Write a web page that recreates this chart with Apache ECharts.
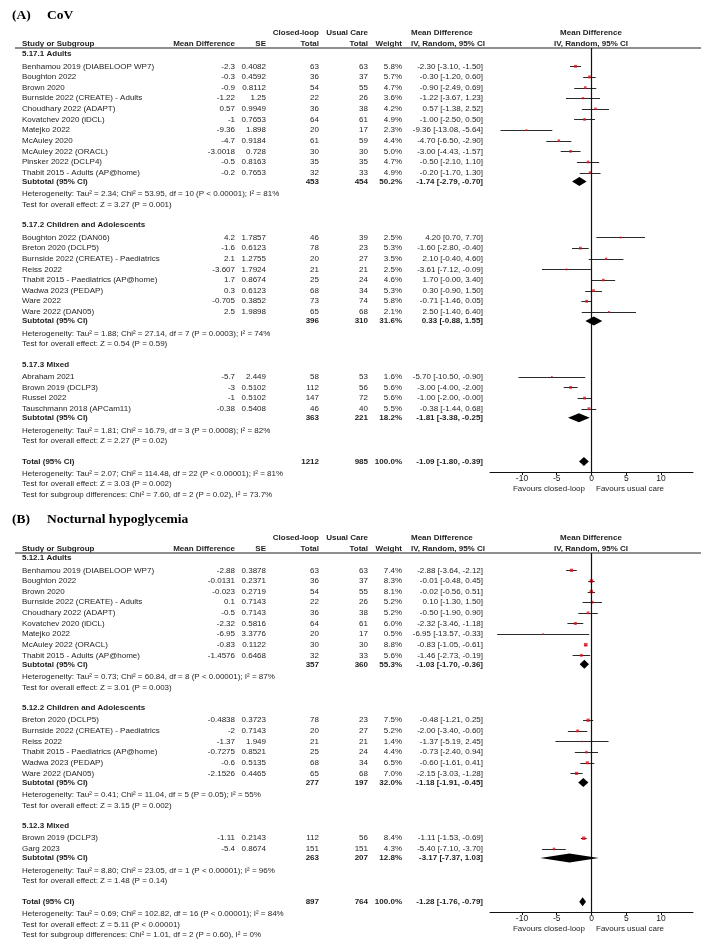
<!DOCTYPE html>
<html><head><meta charset="utf-8">
<script src="https://cdn.jsdelivr.net/npm/echarts@6/dist/echarts.min.js"></script>
<style>html,body{margin:0;padding:0;background:#fff}#c{width:705px;height:944px}</style>
</head><body><div id="c"></div>
<script>
// ================= Panel A : CoV =================
const A_label = "(A)";
const A_title = "CoV";
const A_groups = ["5.17.1 Adults", "5.17.2 Children and Adolescents", "5.17.3 Mixed"];
const A_groupSize = [11, 8, 4];
const A_study = [
  "Benhamou 2019 (DIABELOOP WP7)", "Boughton 2022", "Brown 2020", "Burnside 2022 (CREATE) - Adults",
  "Choudhary 2022 (ADAPT)", "Kovatchev 2020 (iDCL)", "Matejko 2022", "McAuley 2020",
  "McAuley 2022 (ORACL)", "Pinsker 2022 (DCLP4)", "Thabit 2015 - Adults (AP@home)",
  "Boughton 2022 (DAN06)", "Breton 2020 (DCLP5)", "Burnside 2022 (CREATE) - Paediatrics", "Reiss 2022",
  "Thabit 2015 - Paediatrics (AP@home)", "Wadwa 2023 (PEDAP)", "Ware 2022", "Ware 2022 (DAN05)",
  "Abraham 2021", "Brown 2019 (DCLP3)", "Russel 2022", "Tauschmann 2018 (APCam11)"
];
const A_md = [-2.3, -0.3, -0.9, -1.22, 0.57, -1, -9.36, -4.7, -3.0018, -0.5, -0.2,
  4.2, -1.6, 2.1, -3.607, 1.7, 0.3, -0.705, 2.5,
  -5.7, -3, -1, -0.38];
const A_se = [0.4082, 0.4592, 0.8112, 1.25, 0.9949, 0.7653, 1.898, 0.9184, 0.728, 0.8163, 0.7653,
  1.7857, 0.6123, 1.2755, 1.7924, 0.8674, 0.6123, 0.3852, 1.9898,
  2.449, 0.5102, 0.5102, 0.5408];
const A_nCL = [63, 36, 54, 22, 36, 64, 20, 61, 30, 35, 32, 46, 78, 20, 21, 25, 68, 73, 65, 58, 112, 147, 46];
const A_nUC = [63, 37, 55, 26, 38, 61, 17, 59, 30, 35, 33, 39, 23, 27, 21, 24, 34, 74, 68, 53, 56, 72, 40];
const A_weight = [5.8, 5.7, 4.7, 3.6, 4.2, 4.9, 2.3, 4.4, 5.0, 4.7, 4.9,
  2.5, 5.3, 3.5, 2.5, 4.6, 5.3, 5.8, 2.1,
  1.6, 5.6, 5.6, 5.5];
const A_subMD = [-1.74, 0.33, -1.81];
const A_subLo = [-2.79, -0.88, -3.38];
const A_subHi = [-0.70, 1.55, -0.25];
const A_subNCL = [453, 396, 363];
const A_subNUC = [454, 310, 221];
const A_subW = [50.2, 31.6, 18.2];
const A_het = [
  "Heterogeneity: Tau² = 2.34; Chi² = 53.95, df = 10 (P < 0.00001); I² = 81%",
  "Heterogeneity: Tau² = 1.88; Chi² = 27.14, df = 7 (P = 0.0003); I² = 74%",
  "Heterogeneity: Tau² = 1.81; Chi² = 16.79, df = 3 (P = 0.0008); I² = 82%"
];
const A_test = [
  "Test for overall effect: Z = 3.27 (P = 0.001)",
  "Test for overall effect: Z = 0.54 (P = 0.59)",
  "Test for overall effect: Z = 2.27 (P = 0.02)"
];
const A_totMD = [-1.09, -1.80, -0.39];   // estimate, lower, upper
const A_totN = [1212, 985];
const A_totW = 100.0;
const A_totNotes = [
  "Heterogeneity: Tau² = 2.07; Chi² = 114.48, df = 22 (P < 0.00001); I² = 81%",
  "Test for overall effect: Z = 3.03 (P = 0.002)",
  "Test for subgroup differences: Chi² = 7.60, df = 2 (P = 0.02), I² = 73.7%"
];

// ================= Panel B : Nocturnal hypoglycemia =================
const B_label = "(B)";
const B_title = "Nocturnal hypoglycemia";
const B_groups = ["5.12.1 Adults", "5.12.2 Children and Adolescents", "5.12.3 Mixed"];
const B_groupSize = [9, 6, 2];
const B_study = [
  "Benhamou 2019 (DIABELOOP WP7)", "Boughton 2022", "Brown 2020", "Burnside 2022 (CREATE) - Adults",
  "Choudhary 2022 (ADAPT)", "Kovatchev 2020 (iDCL)", "Matejko 2022", "McAuley 2022 (ORACL)",
  "Thabit 2015 - Adults (AP@home)",
  "Breton 2020 (DCLP5)", "Burnside 2022 (CREATE) - Paediatrics", "Reiss 2022",
  "Thabit 2015 - Paediatrics (AP@home)", "Wadwa 2023 (PEDAP)", "Ware 2022 (DAN05)",
  "Brown 2019 (DCLP3)", "Garg 2023"
];
const B_md = [-2.88, -0.0131, -0.023, 0.1, -0.5, -2.32, -6.95, -0.83, -1.4576,
  -0.4838, -2, -1.37, -0.7275, -0.6, -2.1526,
  -1.11, -5.4];
const B_se = [0.3878, 0.2371, 0.2719, 0.7143, 0.7143, 0.5816, 3.3776, 0.1122, 0.6468,
  0.3723, 0.7143, 1.949, 0.8521, 0.5135, 0.4465,
  0.2143, 0.8674];
const B_nCL = [63, 36, 54, 22, 36, 64, 20, 30, 32, 78, 20, 21, 25, 68, 65, 112, 151];
const B_nUC = [63, 37, 55, 26, 38, 61, 17, 30, 33, 23, 27, 21, 24, 34, 68, 56, 151];
const B_weight = [7.4, 8.3, 8.1, 5.2, 5.2, 6.0, 0.5, 8.8, 5.6,
  7.5, 5.2, 1.4, 4.4, 6.5, 7.0,
  8.4, 4.3];
const B_subMD = [-1.03, -1.18, -3.17];
const B_subLo = [-1.70, -1.91, -7.37];
const B_subHi = [-0.36, -0.45, 1.03];
const B_subNCL = [357, 277, 263];
const B_subNUC = [360, 197, 207];
const B_subW = [55.3, 32.0, 12.8];
const B_het = [
  "Heterogeneity: Tau² = 0.73; Chi² = 60.84, df = 8 (P < 0.00001); I² = 87%",
  "Heterogeneity: Tau² = 0.41; Chi² = 11.04, df = 5 (P = 0.05); I² = 55%",
  "Heterogeneity: Tau² = 8.80; Chi² = 23.05, df = 1 (P < 0.00001); I² = 96%"
];
const B_test = [
  "Test for overall effect: Z = 3.01 (P = 0.003)",
  "Test for overall effect: Z = 3.15 (P = 0.002)",
  "Test for overall effect: Z = 1.48 (P = 0.14)"
];
const B_totMD = [-1.28, -1.76, -0.79];
const B_totN = [897, 764];
const B_totW = 100.0;
const B_totNotes = [
  "Heterogeneity: Tau² = 0.69; Chi² = 102.82, df = 16 (P < 0.00001); I² = 84%",
  "Test for overall effect: Z = 5.11 (P < 0.00001)",
  "Test for subgroup differences: Chi² = 1.01, df = 2 (P = 0.60), I² = 0%"
];

// shared axis ticks
const X_TICKS = [-10, -5, 0, 5, 10];
const FAVOURS = ["Favours closed-loop", "Favours usual care"];
const HDR = {
  cl: "Closed-loop", uc: "Usual Care", md: "Mean Difference", iv: "IV, Random, 95% CI",
  study: "Study or Subgroup", se: "SE", total: "Total", weight: "Weight",
  sub: "Subtotal (95% CI)", tot: "Total (95% CI)"
};

// ================= layout & styles =================
const Z95 = 1.96;
const FONT = '"Liberation Sans", Arial, Helvetica, sans-serif';
const FS = 8;
const TXT = '#1e1e1e';
const COL = { name: 22, md: 235, se: 266, cl: 319, uc: 368, w: 402, ci: 483, ciHdr: 411, plotC: 591 };
const GAP = { g2s: 12.3, st: 10.63, s2sub: 9, sub2het: 12.6, het2test: 10.7, test2g: 20.3, test2tot: 20.5, tot2het: 12, note: 10.6 };
const PANELS_LAYOUT = [
  { titleY: 16, hdr1Y: 33, hdr2Y: 43.5, lineY: 48, startY: 54, axisY: 472 },
  { titleY: 520, hdr1Y: 538, hdr2Y: 548.5, lineY: 553, startY: 558, axisY: 912 }
];
const X_MIN = -14.6, X_MAX = 14.6, PLOT_L = 490, PLOT_R = 693;

function fmt2(x) {
  const s = x < 0 ? '-' : '';
  return s + (Math.round(Math.abs(x) * 100 + 1e-7) / 100).toFixed(2);
}
function ciText(m, lo, hi) { return fmt2(m) + ' [' + fmt2(lo) + ', ' + fmt2(hi) + ']'; }

const graphics = [];
function txt(s, x, y, align, bold, extra) {
  graphics.push({
    type: 'text', x: x, y: y, silent: true,
    style: Object.assign({
      text: s, fill: TXT, font: (bold ? 'bold ' : '') + FS + 'px ' + FONT,
      textAlign: align, align: align, textVerticalAlign: 'middle', verticalAlign: 'middle'
    }, extra || {})
  });
}

const P = [
  { label: A_label, title: A_title, groups: A_groups, gs: A_groupSize, study: A_study, md: A_md, se: A_se,
    ncl: A_nCL, nuc: A_nUC, w: A_weight, subMD: A_subMD, subLo: A_subLo, subHi: A_subHi, subNCL: A_subNCL,
    subNUC: A_subNUC, subW: A_subW, het: A_het, test: A_test, tot: A_totMD, totN: A_totN, totW: A_totW, notes: A_totNotes },
  { label: B_label, title: B_title, groups: B_groups, gs: B_groupSize, study: B_study, md: B_md, se: B_se,
    ncl: B_nCL, nuc: B_nUC, w: B_weight, subMD: B_subMD, subLo: B_subLo, subHi: B_subHi, subNCL: B_subNCL,
    subNUC: B_subNUC, subW: B_subW, het: B_het, test: B_test, tot: B_totMD, totN: B_totN, totW: B_totW, notes: B_totNotes }
];

const grids = [], xAxes = [], yAxes = [], series = [];

P.forEach(function (p, pi) {
  const L = PANELS_LAYOUT[pi];
  // titles
  graphics.push({ type: 'text', x: 12, y: L.titleY, silent: true,
    style: { text: p.label, fill: '#000', font: 'bold 13.5px "Liberation Serif", "Times New Roman", serif', verticalAlign: 'middle', textVerticalAlign: 'middle' } });
  graphics.push({ type: 'text', x: 47, y: L.titleY, silent: true,
    style: { text: p.title, fill: '#000', font: 'bold 13.5px "Liberation Serif", "Times New Roman", serif', verticalAlign: 'middle', textVerticalAlign: 'middle' } });
  // headers
  txt(HDR.cl, COL.cl, L.hdr1Y, 'right', true);
  txt(HDR.uc, COL.uc, L.hdr1Y, 'right', true);
  txt(HDR.md, COL.ciHdr, L.hdr1Y, 'left', true);
  txt(HDR.md, COL.plotC, L.hdr1Y, 'center', true);
  txt(HDR.study, COL.name, L.hdr2Y, 'left', true);
  txt(HDR.md, COL.md, L.hdr2Y, 'right', true);
  txt(HDR.se, COL.se, L.hdr2Y, 'right', true);
  txt(HDR.total, COL.cl, L.hdr2Y, 'right', true);
  txt(HDR.total, COL.uc, L.hdr2Y, 'right', true);
  txt(HDR.weight, COL.w, L.hdr2Y, 'right', true);
  txt(HDR.iv, COL.ciHdr, L.hdr2Y, 'left', true);
  txt(HDR.iv, COL.plotC, L.hdr2Y, 'center', true);
  graphics.push({ type: 'line', silent: true, shape: { x1: 15, y1: L.lineY, x2: 701, y2: L.lineY },
    style: { stroke: '#6a6a6a', lineWidth: 1.6 } });

  const ciData = [], sqData = [], diaData = [];
  let y = L.startY, k = 0;
  p.groups.forEach(function (g, gi) {
    txt(g, COL.name, y, 'left', true);
    y += GAP.g2s;
    for (let j = 0; j < p.gs[gi]; j++, k++) {
      if (j > 0) y += GAP.st;
      const m = p.md[k], s = p.se[k];
      const lo = m - Z95 * s, hi = m + Z95 * s;
      txt(p.study[k], COL.name, y, 'left');
      txt(String(m), COL.md, y, 'right');
      txt(String(s), COL.se, y, 'right');
      txt(String(p.ncl[k]), COL.cl, y, 'right');
      txt(String(p.nuc[k]), COL.uc, y, 'right');
      txt(p.w[k].toFixed(1) + '%', COL.w, y, 'right');
      txt(ciText(m, lo, hi), COL.ci, y, 'right');
      ciData.push([lo, hi, y]);
      sqData.push([m, y, p.w[k]]);
    }
    y += GAP.s2sub;
    txt(HDR.sub, COL.name, y, 'left', true);
    txt(String(p.subNCL[gi]), COL.cl, y, 'right', true);
    txt(String(p.subNUC[gi]), COL.uc, y, 'right', true);
    txt(p.subW[gi].toFixed(1) + '%', COL.w, y, 'right', true);
    txt(ciText(p.subMD[gi], p.subLo[gi], p.subHi[gi]), COL.ci, y, 'right', true);
    diaData.push([p.subMD[gi], p.subLo[gi], p.subHi[gi], y]);
    y += GAP.sub2het;
    txt(p.het[gi], COL.name, y, 'left');
    y += GAP.het2test;
    txt(p.test[gi], COL.name, y, 'left');
    y += (gi < p.groups.length - 1) ? GAP.test2g : GAP.test2tot;
  });
  // total
  txt(HDR.tot, COL.name, y, 'left', true);
  txt(String(p.totN[0]), COL.cl, y, 'right', true);
  txt(String(p.totN[1]), COL.uc, y, 'right', true);
  txt(p.totW.toFixed(1) + '%', COL.w, y, 'right', true);
  txt(ciText(p.tot[0], p.tot[1], p.tot[2]), COL.ci, y, 'right', true);
  diaData.push([p.tot[0], p.tot[1], p.tot[2], y]);
  y += GAP.tot2het;
  p.notes.forEach(function (n, ni) { txt(n, COL.name, y + ni * GAP.note, 'left'); });

  // favours labels
  txt(FAVOURS[0], COL.plotC - 6, L.axisY + 17, 'right');
  txt(FAVOURS[1], COL.plotC + 5, L.axisY + 17, 'left');

  grids.push({ left: PLOT_L, width: PLOT_R - PLOT_L, top: L.lineY, height: L.axisY - L.lineY, containLabel: false });
  xAxes.push({
    gridIndex: pi, type: 'value', min: X_MIN, max: X_MAX,
    axisLine: { show: true, onZero: false, lineStyle: { color: '#111', width: 1 } },
    axisTick: { show: true, customValues: X_TICKS, length: 3, inside: false, lineStyle: { color: '#111' } },
    axisLabel: { show: true, customValues: X_TICKS, fontSize: 8.5, color: TXT, fontFamily: FONT, margin: 2,
      formatter: function (v) { return String(v); } },
    splitLine: { show: false }
  });
  yAxes.push({ gridIndex: pi, type: 'value', min: L.lineY, max: L.axisY, inverse: true, show: false,
    splitLine: { show: false } });

  series.push({
    type: 'custom', xAxisIndex: pi, yAxisIndex: pi, data: ciData, encode: { x: [0, 1], y: 2 }, silent: true,
    renderItem: function (params, api) {
      const a = api.coord([api.value(0), api.value(2)]);
      const b = api.coord([api.value(1), api.value(2)]);
      const yy = Math.round(a[1]) + 0.5;
      return { type: 'line', shape: { x1: a[0], y1: yy, x2: b[0], y2: yy }, style: { stroke: '#2a2a2a', lineWidth: 1 } };
    },
    markLine: {
      silent: true, symbol: 'none', label: { show: false }, animation: false,
      lineStyle: { color: '#111', width: 1.2, type: 'solid' },
      data: [{ xAxis: 0 }]
    },
    z: 2
  });
  series.push({
    type: 'scatter', xAxisIndex: pi, yAxisIndex: pi, data: sqData, symbol: 'rect', silent: true,
    symbolSize: function (v) { return Math.max(1.6, Math.sqrt(v[2]) * 1.2); },
    itemStyle: { color: '#e3121b' }, z: 4
  });
  series.push({
    type: 'custom', xAxisIndex: pi, yAxisIndex: pi, data: diaData, encode: { x: [1, 2], y: 3 }, silent: true,
    renderItem: function (params, api) {
      const c = api.coord([api.value(0), api.value(3)]);
      const l = api.coord([api.value(1), api.value(3)]);
      const r = api.coord([api.value(2), api.value(3)]);
      const h = 4.5;
      return { type: 'polygon', shape: { points: [[l[0], c[1]], [c[0], c[1] - h], [r[0], c[1]], [c[0], c[1] + h]] },
        style: { fill: '#000' } };
    },
    z: 5
  });
});

const chart = echarts.init(document.getElementById('c'), null, { renderer: 'canvas' });
chart.setOption({
  animation: false,
  backgroundColor: '#fff',
  grid: grids, xAxis: xAxes, yAxis: yAxes, series: series,
  graphic: { elements: graphics }
});
</script>
</body></html>
